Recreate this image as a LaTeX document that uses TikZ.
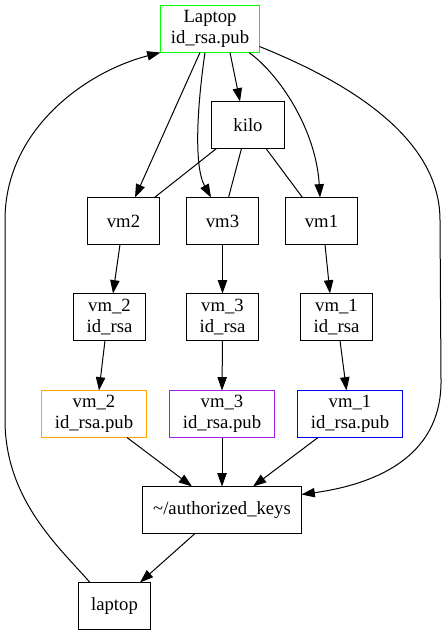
\documentclass[tikz,border=0pt]{standalone}
\usepackage{fontspec}
\setmainfont{Liberation Serif}
\usetikzlibrary{arrows.meta,calc}
\definecolor{gvgreen}{RGB}{0,255,0}
\definecolor{gvorange}{RGB}{255,165,0}
\definecolor{gvpurple}{RGB}{160,32,240}
\definecolor{gvblue}{RGB}{0,0,255}
\begin{document}
\begin{tikzpicture}[x=0.75pt,y=-0.75pt,
  box/.style={draw, rectangle, line width=0.75pt, inner sep=0pt, outer sep=0pt, align=center,
    minimum height=35.25pt, font=\fontsize{14pt}{16pt}\selectfont},
  edge/.style={line width=0.75pt, -{Triangle[length=10pt,width=7pt]}},
  plain/.style={line width=0.75pt}]
\useasboundingbox (0,0) rectangle (448,635);

\node[box, draw=gvgreen, minimum width=74.25pt] (L) at (210,29) {Laptop\\id\_rsa.pub};
\node[box, minimum width=54.75pt] (kilo) at (248,125) {kilo};
\node[box, minimum width=54pt] (vm2) at (123.5,221) {vm2};
\node[box, minimum width=54pt] (vm3) at (222.5,221) {vm3};
\node[box, minimum width=54pt] (vm1) at (321.5,221) {vm1};
\node[box, minimum width=54pt] (k2) at (109.5,317) {vm\_2\\id\_rsa};
\node[box, minimum width=54pt] (k3) at (222.5,317) {vm\_3\\id\_rsa};
\node[box, minimum width=54pt] (k1) at (336.5,317) {vm\_1\\id\_rsa};
\node[box, draw=gvorange, minimum width=78.75pt] (p2) at (94,414) {vm\_2\\id\_rsa.pub};
\node[box, draw=gvpurple, minimum width=78.75pt] (p3) at (222,414) {vm\_3\\id\_rsa.pub};
\node[box, draw=gvblue, minimum width=78.75pt] (p1) at (350,414) {vm\_1\\id\_rsa.pub};
\node[box, minimum width=119.25pt] (auth) at (222,510) {\textasciitilde/authorized\_keys};
\node[box, minimum width=54pt] (lap) at (114.5,606) {laptop};

% from Laptop
\draw[edge] ($(L.south)+(20,0)$) -- ($(kilo.north)+(-8,0)$);
\draw[edge] ($(L.south)+(-10,0)$) -- ($(vm2.north)+(11.5,0)$);
\draw[edge] ($(L.south)+(-5,0)$) .. controls (198,100) and (193,165) .. ($(vm3.north)+(-11.5,0)$);
\draw[edge] ($(L.south)+(39,0)$) .. controls (280,75) and (316,130) .. ($(vm1.north)+(-1.5,0)$);
\draw[edge] ($(L.south east)+(0,-6)$) .. controls (330,75) and (440,130) .. (440,220)
  -- (441,380) .. controls (442,460) and (370,485) .. ($(auth.north east)+(0,8)$);

% kilo links
\draw[plain] ($(kilo.south west)+(5,0)$) -- ($(vm2.north east)+(-5,0)$);
\draw[plain] ($(kilo.south)+(-6.5,0)$) -- ($(vm3.north)+(6,0)$);
\draw[plain] ($(kilo.south)+(18,0)$) -- ($(vm1.north)+(-19,0)$);

% vm -> id_rsa
\draw[edge] ($(vm2.south)+(-3.5,0)$) -- ($(k2.north)+(3.5,0)$);
\draw[edge] (vm3.south) -- (k3.north);
\draw[edge] ($(vm1.south)+(3.5,0)$) -- ($(k1.north)+(-6.5,0)$);

% id_rsa -> pub
\draw[edge] ($(k2.south)+(-4.5,0)$) -- ($(p2.north)+(5,0)$);
\draw[edge] (k3.south) -- (p3.north);
\draw[edge] ($(k1.south)+(3.5,0)$) -- ($(p1.north)+(-3.5,0)$);

% pub -> authorized_keys
\draw[edge] ($(p2.south)+(33,0)$) -- ($(auth.north)+(-30,0)$);
\draw[edge] (p3.south) -- (auth.north);
\draw[edge] ($(p1.south)+(-32,0)$) -- ($(auth.north)+(31,0)$);

% authorized_keys -> laptop
\draw[edge] ($(auth.south)+(-27,0)$) -- ($(lap.north)+(25.5,0)$);

% laptop -> Laptop
\draw[edge] ($(lap.north)+(-24.5,0)$) .. controls (60,548) and (5,500) .. (5,420)
  -- (5,220) .. controls (5,130) and (85,72) .. (L.south west);
\end{tikzpicture}
\end{document}
